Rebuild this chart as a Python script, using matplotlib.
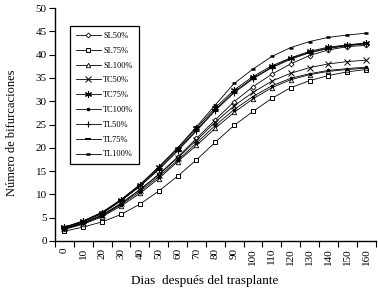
import matplotlib
matplotlib.use("Agg")
import matplotlib.pyplot as plt
import numpy as np

days = ["0", "10", "20", "30", "40", "50", "60", "70", "80", "90", "100",
        "110", "120", "130", "140", "150", "160"]

SL50 = [2.6, 3.8, 5.5, 8.0, 11.0, 14.3, 18.0, 22.0, 26.0, 29.9, 33.1, 35.8, 38.0, 39.8, 41.0, 41.7, 42.0]
SL75 = [2.1, 3.0, 4.1, 5.7, 7.9, 10.7, 13.9, 17.4, 21.2, 24.8, 27.8, 30.6, 32.9, 34.4, 35.5, 36.3, 36.8]
SL100 = [2.5, 3.6, 5.2, 7.5, 10.2, 13.4, 17.0, 20.5, 24.2, 27.6, 30.5, 32.9, 34.6, 35.7, 36.4, 36.8, 37.1]
TC50 = [2.7, 3.9, 5.6, 8.1, 11.0, 14.2, 17.8, 21.6, 25.5, 29.0, 31.9, 34.3, 36.0, 37.2, 38.0, 38.5, 38.8]
TC75 = [3.0, 4.3, 6.1, 8.8, 12.0, 15.8, 19.8, 24.2, 28.6, 32.4, 35.3, 37.6, 39.3, 40.7, 41.6, 42.1, 42.5]
TC100 = [2.6, 3.8, 5.4, 7.8, 10.6, 13.8, 17.3, 21.0, 24.8, 28.2, 31.0, 33.3, 34.9, 35.9, 36.6, 37.0, 37.3]
TL50 = [2.8, 4.1, 5.9, 8.6, 11.7, 15.3, 19.3, 23.6, 28.0, 31.8, 34.8, 37.2, 39.0, 40.4, 41.3, 41.9, 42.3]
TL75 = [2.9, 4.2, 6.0, 8.7, 11.8, 15.5, 19.5, 23.8, 28.2, 32.0, 35.0, 37.3, 39.2, 40.5, 41.4, 42.0, 42.4]
TL100 = [2.9, 4.3, 6.2, 8.9, 12.1, 15.9, 20.0, 24.5, 29.2, 33.8, 36.9, 39.6, 41.5, 42.8, 43.7, 44.2, 44.6]

names = ["SL50%", "SL75%", "SL100%", "TC50%", "TC75%", "TC100%", "TL50%", "TL75%", "TL100%"]
series = [SL50, SL75, SL100, TC50, TC75, TC100, TL50, TL75, TL100]
markers = ["D", "s", "^", "x", (6, 2, 0), "o", "+", "_", "_"]
msizes = [2.5, 3.2, 3.2, 4, 5, 2, 5, 4, 3]
mfaces = ["white", "white", "white", "black", "black", "black", "black", "black", "black"]
mews = [0.6, 0.7, 0.6, 0.7, 0.8, 0.6, 0.8, 1.4, 1.8]

plt.rcParams['font.family'] = ['Liberation Serif', 'DejaVu Serif']

fig = plt.figure(figsize=(3.78, 2.99), dpi=100)
ax = fig.add_axes([55/378, 1 - 241/299, (375.5 - 55)/378, (241 - 8)/299])

x = np.arange(len(days))
for name, y, m, ms, fc, mew in zip(names, series, markers, msizes, mfaces, mews):
    ax.plot(x, y, color="black", linewidth=0.6, marker=m, markersize=ms,
            markerfacecolor=fc, markeredgecolor="black", markeredgewidth=mew,
            label=name)

ax.set_xlim(-0.5, len(days) - 0.5)
ax.set_ylim(0, 50)
ax.set_yticks(np.arange(0, 51, 5))
ax.tick_params(axis='y', labelsize=8, direction='out', length=4, width=0.8, pad=2)

ax.set_xticks(np.arange(-0.5, len(days), 1.0))
ax.set_xticklabels([])
ax.tick_params(axis='x', which='major', direction='out', length=4, width=0.8)
ax.set_xticks(x, minor=True)
ax.set_xticklabels(days, minor=True, rotation=90, fontsize=8)
ax.tick_params(axis='x', which='minor', length=0, pad=5)

for s in ["top", "right"]:
    ax.spines[s].set_visible(False)
for s in ["left", "bottom"]:
    ax.spines[s].set_linewidth(1.0)

ax.set_ylabel("Número de bifurcaciones", fontsize=9)
ax.yaxis.set_label_coords((18 - 55)/320.5, (241 - 133)/233)
ax.set_xlabel("Dias  después del trasplante", fontsize=9.5)
ax.xaxis.set_label_coords((205 - 55)/320.5, -(275 - 241)/233)

leg = ax.legend(loc="upper left", bbox_to_anchor=((70 - 55)/320.5, (241 - 26)/233),
                fontsize=6, frameon=True, fancybox=False, edgecolor="black",
                framealpha=1, handlelength=3.0, labelspacing=0.82,
                borderpad=0.7, handletextpad=0.3, borderaxespad=0)
leg.get_frame().set_linewidth(0.9)

fig.savefig("out.png", dpi=100)
